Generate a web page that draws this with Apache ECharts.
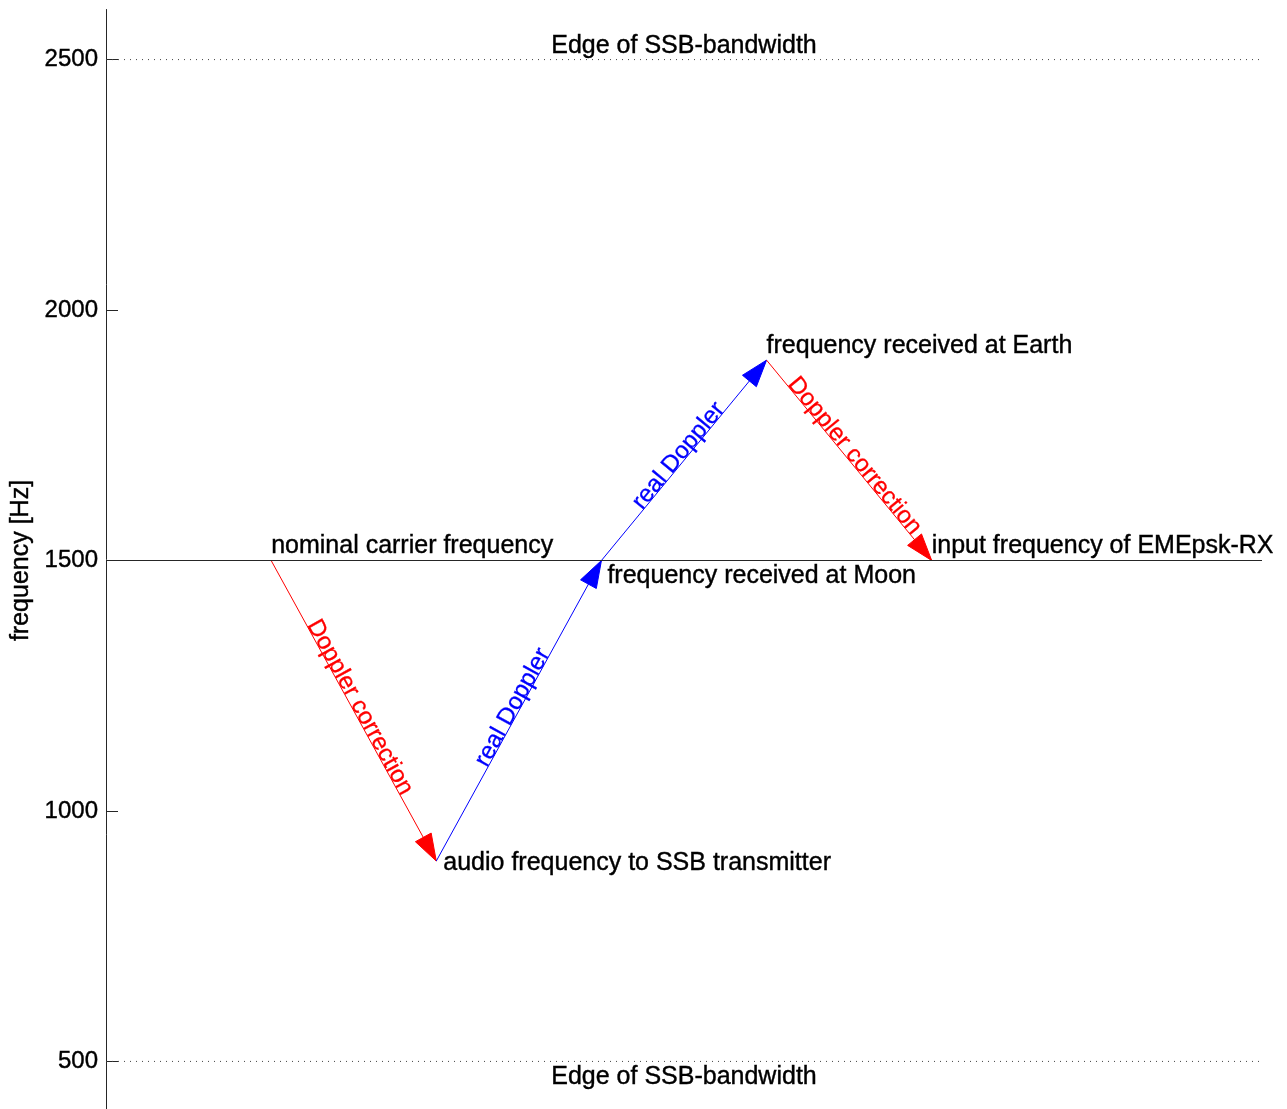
<!DOCTYPE html>
<html>
<head>
<meta charset="utf-8">
<script src="https://cdn.jsdelivr.net/npm/echarts@6/dist/echarts.min.js"></script>
<style>
html,body{margin:0;padding:0;background:#fff;}
#chart{width:1287px;height:1109px;}
</style>
</head>
<body>
<div id="chart"></div>
<script>
// ---- data ----
const stepX = [1, 2, 3, 4, 5];
const stepFreq = [1500, 900, 1500, 1900, 1500];
const pointLabels = [
  'nominal carrier frequency',
  'audio frequency to SSB transmitter',
  'frequency received at Moon',
  'frequency received at Earth',
  'input frequency of EMEpsk-RX'
];
const arrowKinds = ['correction', 'doppler', 'doppler', 'correction'];
const arrowLabels = ['Doppler correction', 'real Doppler', 'real Doppler', 'Doppler correction'];
const nominalFreq = 1500;
const edgeFreqs = [2500, 500];
const edgeLabel = 'Edge of SSB-bandwidth';
const edgeLabelX = 3.5;
const xRange = [0, 7];
const yRange = [400, 2600];
const yTicks = [500, 1000, 1500, 2000, 2500];
const yName = 'frequency [Hz]';

// ---- styles ----
const FONT = '"Liberation Sans", Arial, Helvetica, sans-serif';
const kindColor = { correction: '#ff0000', doppler: '#0000ff' };
const pointLabelStyle = [
  { align: 'left', verticalAlign: 'bottom', offset: [0, -2] },
  { align: 'left', verticalAlign: 'middle', offset: [7, 2] },
  { align: 'left', verticalAlign: 'top', offset: [6, 3] },
  { align: 'left', verticalAlign: 'bottom', offset: [0, -2] },
  { align: 'left', verticalAlign: 'bottom', offset: [0, -2] }
];

const arrowData = arrowKinds.map((k, i) => [stepX[i], stepFreq[i], stepX[i + 1], stepFreq[i + 1], i]);

const chart = echarts.init(document.getElementById('chart'), null, { renderer: 'canvas' });

const textLabel = { fontSize: 25, color: '#000000', opacity: 1, fontFamily: FONT, textBorderColor: '#000000', textBorderWidth: 0.4 };

const option = {
  animation: false,
  backgroundColor: '#ffffff',
  grid: { left: 106, right: 25, top: 9.5, height: 1102, containLabel: false, outerBoundsMode: 'none' },
  xAxis: {
    type: 'value', min: xRange[0], max: xRange[1], show: false
  },
  yAxis: {
    type: 'value', min: yRange[0], max: yRange[1],
    name: yName, nameLocation: 'middle', nameGap: 72, nameRotate: 90,
    nameTextStyle: { fontSize: 25, color: '#000', fontFamily: FONT, textBorderColor: '#000', textBorderWidth: 0.4 },
    axisLine: { show: true, lineStyle: { color: '#262626', width: 1 } },
    axisTick: { show: true, inside: true, length: 12, customValues: yTicks, lineStyle: { color: '#262626', width: 1 } },
    axisLabel: { show: true, customValues: yTicks, margin: 8, fontSize: 24, color: '#000', fontFamily: FONT,
      textBorderColor: '#000', textBorderWidth: 0.4, formatter: v => String(v) },
    splitLine: { show: false }
  },
  series: [
    {
      type: 'line', silent: true, symbol: 'none',
      data: [[xRange[0], nominalFreq], [xRange[1], nominalFreq]],
      lineStyle: { color: '#262626', width: 1 }
    },
    ...edgeFreqs.map(f => ({
      type: 'line', silent: true, symbol: 'none',
      data: [[xRange[0], f], [xRange[1], f]],
      lineStyle: { color: '#444', width: 1, type: [1, 5] }
    })),
    {
      type: 'custom', coordinateSystem: 'cartesian2d', silent: true,
      data: arrowData,
      encode: { x: [0, 2], y: [1, 3] },
      renderItem: function (params, api) {
        const p0 = api.coord([api.value(0), api.value(1)]);
        const p1 = api.coord([api.value(2), api.value(3)]);
        const i = api.value(4);
        const color = kindColor[arrowKinds[i]];
        const dx = p1[0] - p0[0], dy = p1[1] - p0[1];
        const len = Math.sqrt(dx * dx + dy * dy);
        const ux = dx / len, uy = dy / len;
        const nx = -uy, ny = ux;
        const L = 27, W = 18;
        const bx = p1[0] - ux * L, by = p1[1] - uy * L;
        const mx = (p0[0] + p1[0]) / 2, my = (p0[1] + p1[1]) / 2;
        const rot = -Math.atan2(dy, dx);
        return {
          type: 'group',
          children: [
            { type: 'line', shape: { x1: p0[0], y1: p0[1], x2: p1[0], y2: p1[1] }, style: { stroke: color, lineWidth: 1 } },
            { type: 'polygon', shape: { points: [[p1[0], p1[1]], [bx + nx * W / 2, by + ny * W / 2], [bx - nx * W / 2, by - ny * W / 2]] }, style: { fill: color, stroke: color, lineWidth: 1 } },
            { type: 'text', x: mx, y: my, rotation: rot,
              style: { text: arrowLabels[i], x: 0, y: 5, align: 'center', verticalAlign: 'bottom', fill: color,
                stroke: color, lineWidth: 0.3, fontSize: 24, fontFamily: FONT } }
          ]
        };
      }
    },
    {
      type: 'scatter', silent: true, symbolSize: 0, itemStyle: { opacity: 1 },
      data: stepX.map((x, i) => ({
        value: [x, stepFreq[i]],
        label: Object.assign({ show: true, position: [0, 0], formatter: pointLabels[i] }, textLabel, pointLabelStyle[i])
      })),
      z: 5
    },
    {
      type: 'scatter', silent: true, symbolSize: 0, itemStyle: { opacity: 1 },
      data: edgeFreqs.map((f, i) => ({
        value: [edgeLabelX, f],
        label: Object.assign({
          show: true, position: [0, 0], formatter: edgeLabel, align: 'center',
          verticalAlign: i === 0 ? 'bottom' : 'top', offset: i === 0 ? [0, -1] : [0, 3]
        }, textLabel)
      })),
      z: 5
    }
  ]
};
chart.setOption(option);
</script>
</body>
</html>
